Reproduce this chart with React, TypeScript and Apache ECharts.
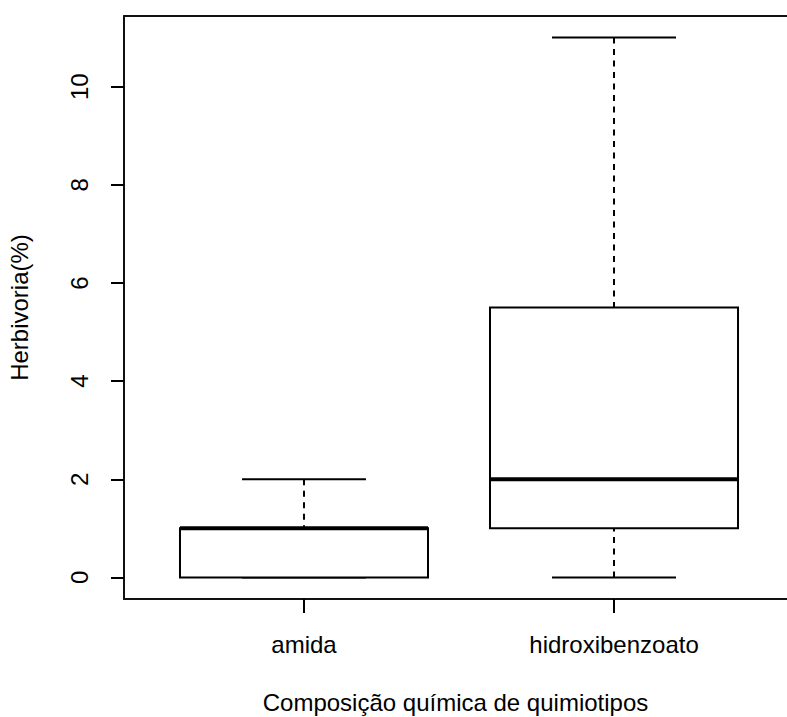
import React, { useEffect, useRef } from "react";
import * as echarts from "echarts";

const categories = ["amida", "hidroxibenzoato"];
const positions = [1, 2];
const mins = [0, 0];
const q1s = [0, 1];
const medians = [1, 2];
const q3s = [1, 5.5];
const maxs = [2, 11];
const yTicks = [0, 2, 4, 6, 8, 10];

const BOX_WEX = 0.8;
const STAPLE_WEX = 0.5;
const FONT = "'Liberation Sans', Arial, sans-serif";
const INK = "#000";
const FRAME = "#111";

export default function App() {
  const ref = useRef<HTMLDivElement>(null);
  useEffect(() => {
    if (!ref.current) return;
    const chart = echarts.init(ref.current, null, { renderer: "svg" });
    const data = positions.map((p, i) => [p, mins[i], q1s[i], medians[i], q3s[i], maxs[i]]);
    const frameLine = { show: true, onZero: false, lineStyle: { color: FRAME, width: 2 } };
    chart.setOption({
      animation: false,
      backgroundColor: "#fff",
      grid: {
        left: 124,
        top: 16,
        width: 663,
        bottom: 118,
        show: false,
        containLabel: false,
        outerBoundsMode: "none",
      },
      xAxis: [
        {
          type: "value",
          position: "bottom",
          min: 0.4194,
          max: 2.558,
          name: "Composição química de quimiotipos",
          nameLocation: "middle",
          nameGap: 91,
          nameTextStyle: { fontSize: 24, fontFamily: FONT, color: INK },
          axisLine: frameLine,
          splitLine: { show: false },
          axisTick: {
            show: true,
            customValues: positions,
            length: 14,
            lineStyle: { color: INK, width: 2 },
          },
          axisLabel: {
            customValues: positions,
            margin: 33,
            fontSize: 24,
            fontFamily: FONT,
            color: INK,
            formatter: (v: number) => categories[Math.round(v) - 1] ?? "",
          },
        },
        {
          type: "value",
          position: "top",
          min: 0.4194,
          max: 2.558,
          axisLine: frameLine,
          splitLine: { show: false },
          axisTick: { show: false },
          axisLabel: { show: false },
        },
      ],
      yAxis: {
        type: "value",
        min: -0.44,
        max: 11.44,
        name: "Herbivoria(%)",
        nameLocation: "middle",
        nameGap: 93,
        nameRotate: 90,
        nameTextStyle: { fontSize: 24, fontFamily: FONT, color: INK },
        axisLine: frameLine,
        splitLine: { show: false },
        axisTick: {
          show: true,
          customValues: yTicks,
          length: 13,
          lineStyle: { color: INK, width: 2 },
        },
        axisLabel: {
          customValues: yTicks,
          rotate: 90,
          margin: 33,
          fontSize: 24,
          fontFamily: FONT,
          color: INK,
        },
      },
      series: [
        {
          type: "custom",
          data,
          clip: false,
          xAxisIndex: 0,
          encode: { x: 0, y: [1, 2, 3, 4, 5] },
          renderItem: (params: any, api: any) => {
            const x = api.value(0);
            const lo = api.coord([x, api.value(1)]);
            const q1 = api.coord([x, api.value(2)]);
            const med = api.coord([x, api.value(3)]);
            const q3 = api.coord([x, api.value(4)]);
            const hi = api.coord([x, api.value(5)]);
            const w = api.size([BOX_WEX, 0])[0];
            const cw = w * STAPLE_WEX;
            const cx = q1[0];
            const solid = { stroke: INK, lineWidth: 2, fill: "none" };
            const dashed = { stroke: INK, lineWidth: 2, lineDash: [6, 5.5], fill: "none" };
            return {
              type: "group",
              children: [
                { type: "line", shape: { x1: cx, y1: hi[1], x2: cx, y2: q3[1] }, style: dashed },
                { type: "line", shape: { x1: cx, y1: lo[1], x2: cx, y2: q1[1] }, style: dashed },
                { type: "line", shape: { x1: cx - cw / 2, y1: hi[1], x2: cx + cw / 2, y2: hi[1] }, style: solid },
                { type: "line", shape: { x1: cx - cw / 2, y1: lo[1], x2: cx + cw / 2, y2: lo[1] }, style: solid },
                {
                  type: "rect",
                  shape: { x: cx - w / 2, y: q3[1], width: w, height: q1[1] - q3[1] },
                  style: { stroke: INK, lineWidth: 2, fill: "#fff" },
                },
                {
                  type: "line",
                  shape: { x1: cx - w / 2, y1: med[1], x2: cx + w / 2, y2: med[1] },
                  style: { stroke: INK, lineWidth: 4 },
                },
              ],
            };
          },
        },
      ],
    });
    return () => chart.dispose();
  }, []);
  return (
    <div
      ref={ref}
      style={{ position: "absolute", left: 0, top: 0, width: 787, height: 717, overflow: "hidden" }}
    />
  );
}
